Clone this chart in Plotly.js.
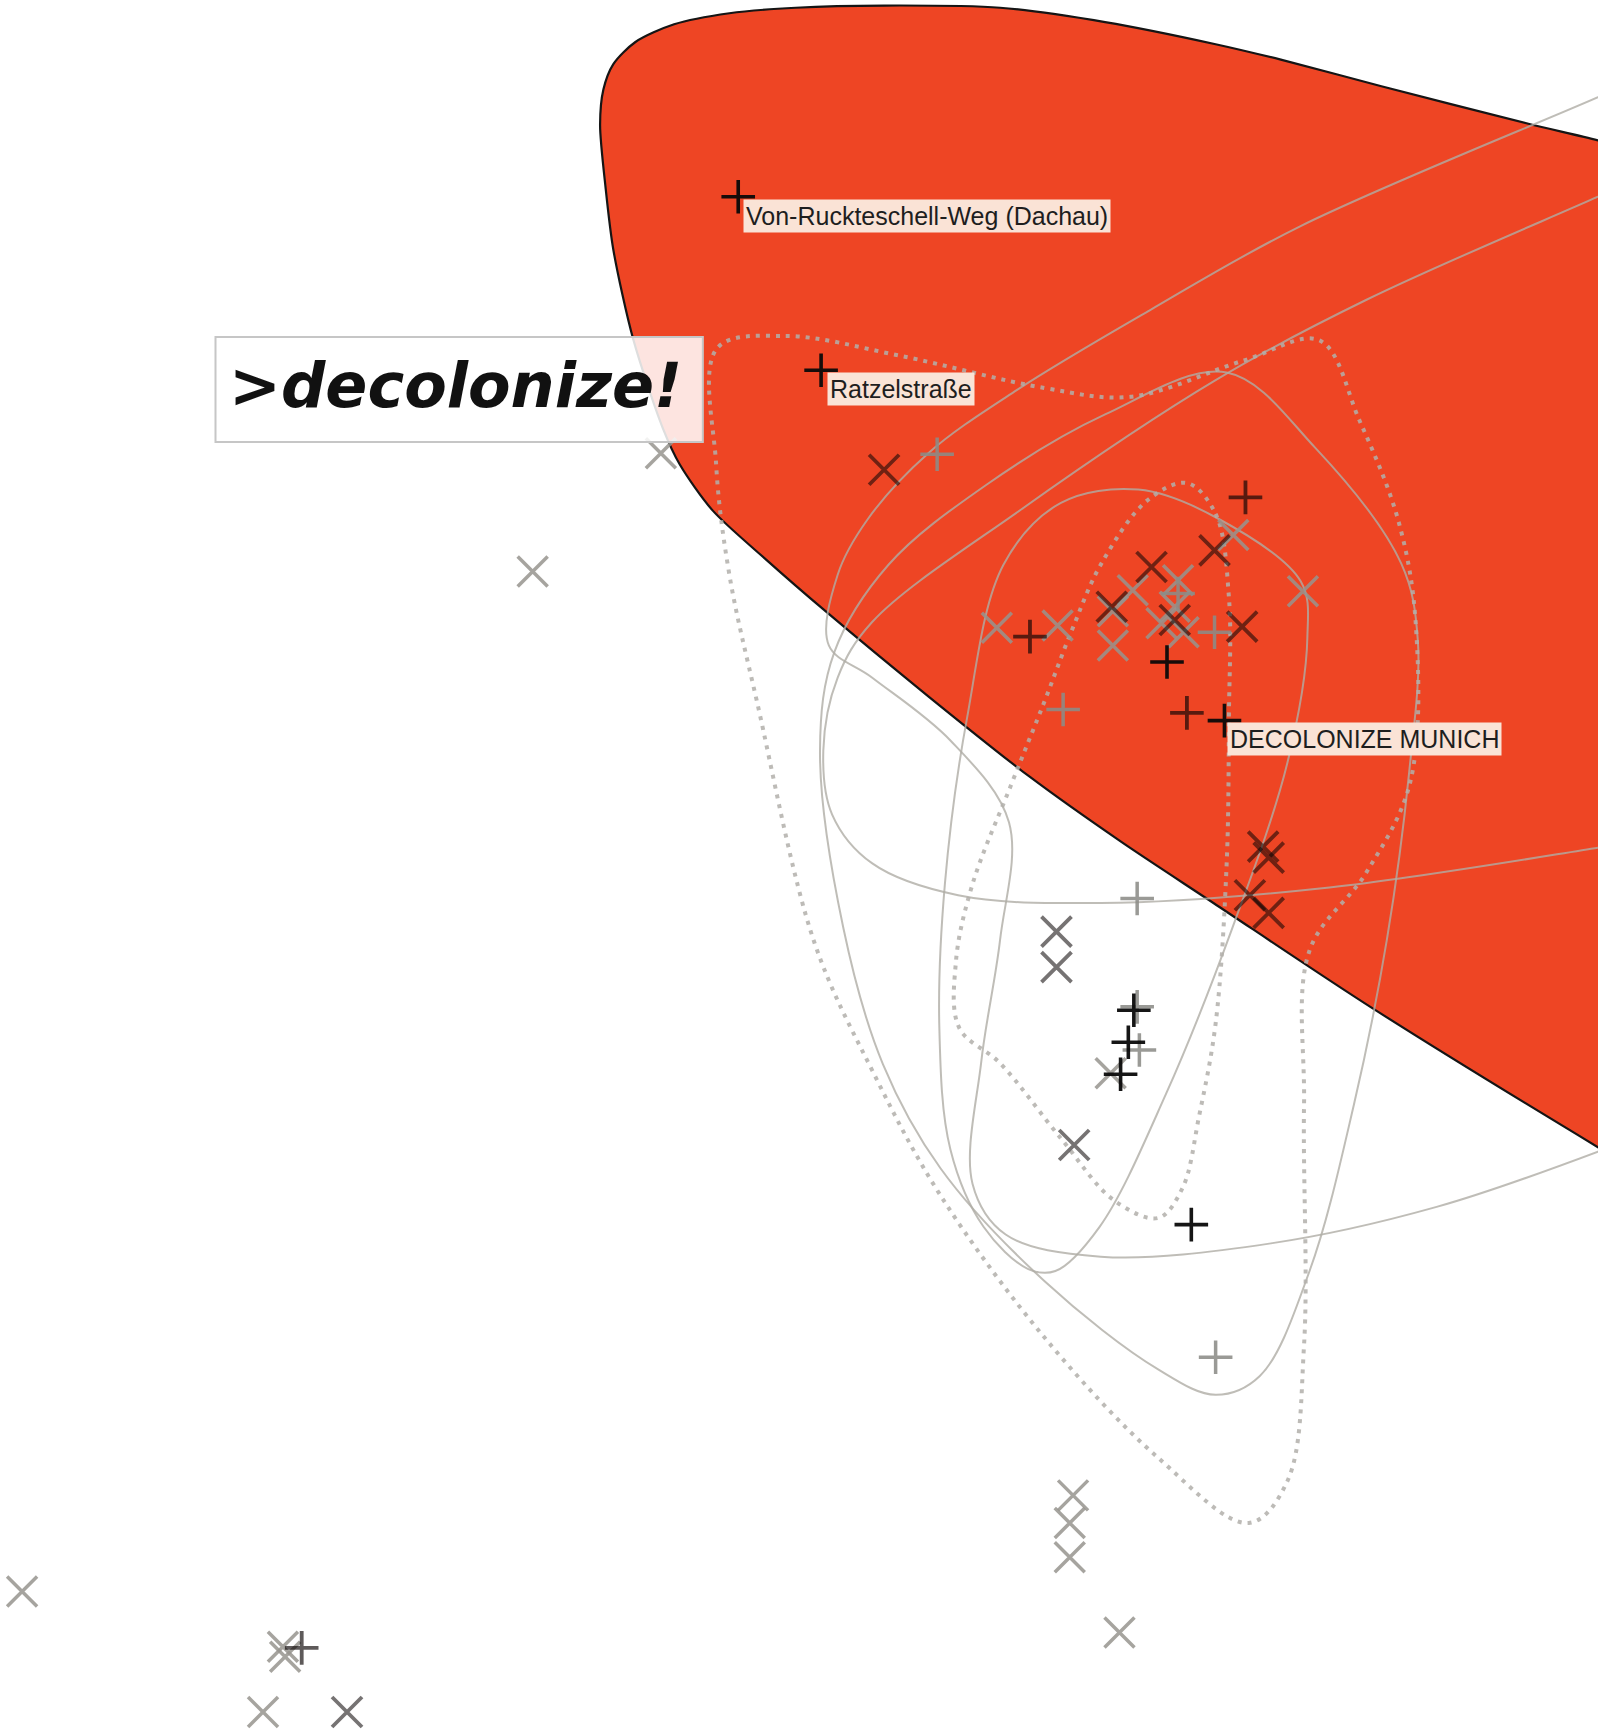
<!DOCTYPE html>
<html>
<head>
<meta charset="utf-8">
<script src="https://cdn.plot.ly/plotly-3.0.1.min.js"></script>
<style>html,body{margin:0;padding:0;background:#fff}#chart{width:1598px;height:1733px}</style>
</head>
<body>
<div id="chart"></div>
<script>
// ---- data (picture coordinates) ----
const blobX = [1600,1500,1446,1383,1250,1159,1100,1000,905,800,720,660,610,575,555,546,543,548,555,573,600,615,645,694,747,840,932,1015,1098,1240,1446,1500,1600];
const blobY = [150,142,127,112,78,54,40,20,7,5,7,12,22,38,58,81,113,170,226,307,388,420,462,507,553,630,703,762,817,911,1038,1070,1070];

const line1X = [1500,1446,1176,1040,920,840,785,758,750,789,860,913,905,888,880,910,996,1150,1300,1446,1500];
const line1Y = [64,88,205,281,353,410,470,520,584,613,670,744,850,960,1071,1117,1137,1125,1092,1042,1020];
const line2X = [1500,1446,1237,1100,924,789,758,745,753,789,867,996,1203,1446,1500];
const line2Y = [154,178,271,344,461,563,613,679,737,781,810,817,803,767,758];
const loop3X = [1110,1000,892,804,755,742,763,799,851,945,1048,1100,1140,1185,1225,1255,1275,1283,1268,1190,1110];
const loop3Y = [337,375,439,511,590,679,839,963,1057,1159,1239,1262,1245,1150,1000,850,700,580,510,405,337];
const loop4X = [908,960,1030,1100,1177,1183,1165,1115,1055,995,955,930,890,860,850,855,875,908];
const loop4Y = [511,455,443,468,526,577,690,840,990,1110,1150,1148,1110,1040,930,800,650,511];
const dot1X = [649,711,815,945,1023,1126,1194,1230,1265,1281,1276,1236,1185,1180,1180,1165,1130,1048,945,850,790,737,685,660,648,649];
const dot1Y = [315,304,322,351,359,326,308,380,470,563,708,790,860,1000,1217,1340,1378,1319,1210,1080,970,853,635,520,420,315];
const dot2X = [1074,1100,1112,1112,1110,1100,1085,1070,1048,1008,960,905,868,865,880,915,945,970,996,1038,1074];
const dot2Y = [437,465,540,650,781,926,1010,1075,1102,1086,1030,962,930,870,800,710,635,570,511,453,437];

const plusBlackX = [668,743,1056,1108,1026,1021,1014,1078];
const plusBlackY = [178,335,599,652,914,943,972,1108];
const plusDarkX = [1127,932,1074,273];
const plusDarkY = [450,576,645,1491];
const plusGreyX = [848,1066,1099,962,1029,1029,1031,1100];
const plusGreyY = [411,537,572,642,813,911,950,1228];
const xDarkX = [800,1042,1099,1006,1063,1124,1143,1148,1131,1148,956,956,972,314];
const xDarkY = [425,513,498,549,561,567,766,776,810,826,843,875,1036,1549];
const xGreyX = [598,482,1116,1066,1179,1025,1007,1063,1051,1071,902,957,1007,1005,971,968,968,1013,20,256,258,238];
const xGreyY = [410,517,484,525,535,534,553,549,564,572,568,566,584,971,1353,1378,1409,1477,1440,1490,1499,1549];

const labelText = ["Von-Ruckteschell-Weg (Dachau)", "Ratzelstraße", "DECOLONIZE MUNICH"];
const labelX = [672, 748, 1110];
const labelY = [180, 337, 653];
const titleText = ">decolonize!";

// ---- traces ----
const curveColor = 'rgba(175,172,165,0.8)';
const traces = [];
traces.push({x: blobX, y: blobY, mode: 'lines', fill: 'toself', fillcolor: '#ee4524',
  line: {color: '#151515', width: 2.2, shape: 'spline', smoothing: 0.8}, hoverinfo: 'skip'});
[[line1X,line1Y],[line2X,line2Y],[loop3X,loop3Y],[loop4X,loop4Y]].forEach(p => {
  traces.push({x: p[0], y: p[1], mode: 'lines', line: {color: curveColor, width: 2, shape: 'spline', smoothing: 1}, hoverinfo: 'skip'});
});
[[dot1X,dot1Y],[dot2X,dot2Y]].forEach(p => {
  traces.push({x: p[0], y: p[1], mode: 'lines', line: {color: 'rgba(178,175,170,0.85)', width: 4, dash: '4px,6px', shape: 'spline', smoothing: 1}, hoverinfo: 'skip'});
});
function markers(xs, ys, sym, size, color, w) {
  return {x: xs, y: ys, mode: 'markers', hoverinfo: 'skip',
    marker: {symbol: sym, size: size, color: color, line: {color: color, width: w}}};
}
traces.push(markers(xGreyX, xGreyY, 'x-thin', 30, 'rgba(150,148,142,0.85)', 3.5));
traces.push(markers(plusGreyX, plusGreyY, 'cross-thin', 24, 'rgba(140,140,136,0.88)', 3.5));
traces.push(markers(xDarkX, xDarkY, 'x-thin', 30, 'rgba(10,5,5,0.56)', 3.8));
traces.push(markers(plusDarkX, plusDarkY, 'cross-thin', 24, 'rgba(10,5,5,0.66)', 3.8));
traces.push(markers(plusBlackX, plusBlackY, 'cross-thin', 24, 'rgba(10,10,10,0.95)', 3.6));

const annotations = labelText.map((t, i) => ({
  x: labelX[i], y: labelY[i], xref: 'x', yref: 'y', text: t, showarrow: false,
  xanchor: 'left', yanchor: 'top', bgcolor: '#fae3d6', borderpad: 2,
  font: {family: 'Liberation Sans, Arial, sans-serif', size: 25, color: '#1e1e1e'}
}));
annotations.push({x: 412, y: 349, xref: 'x', yref: 'y', text: titleText, showarrow: false,
  xanchor: 'center', yanchor: 'middle',
  font: {family: 'DejaVu Sans, sans-serif', size: 62, color: '#111', style: 'italic', weight: 'bold'}});

const layout = {
  width: 1598, height: 1733, margin: {l: 0, r: 0, t: 0, b: 0},
  paper_bgcolor: '#ffffff', plot_bgcolor: '#ffffff', showlegend: false,
  xaxis: {range: [0, 1446], visible: false, showgrid: false, zeroline: false, fixedrange: true},
  yaxis: {range: [1568, 0], visible: false, showgrid: false, zeroline: false, fixedrange: true},
  shapes: [{type: 'rect', xref: 'x', yref: 'y', x0: 195, x1: 636, y0: 305, y1: 400,
    fillcolor: 'rgba(255,255,255,0.86)', line: {color: '#c6c6c6', width: 2}, layer: 'above'}],
  annotations: annotations
};
Plotly.newPlot('chart', traces, layout, {staticPlot: true, displayModeBar: false});
</script>
</body>
</html>
